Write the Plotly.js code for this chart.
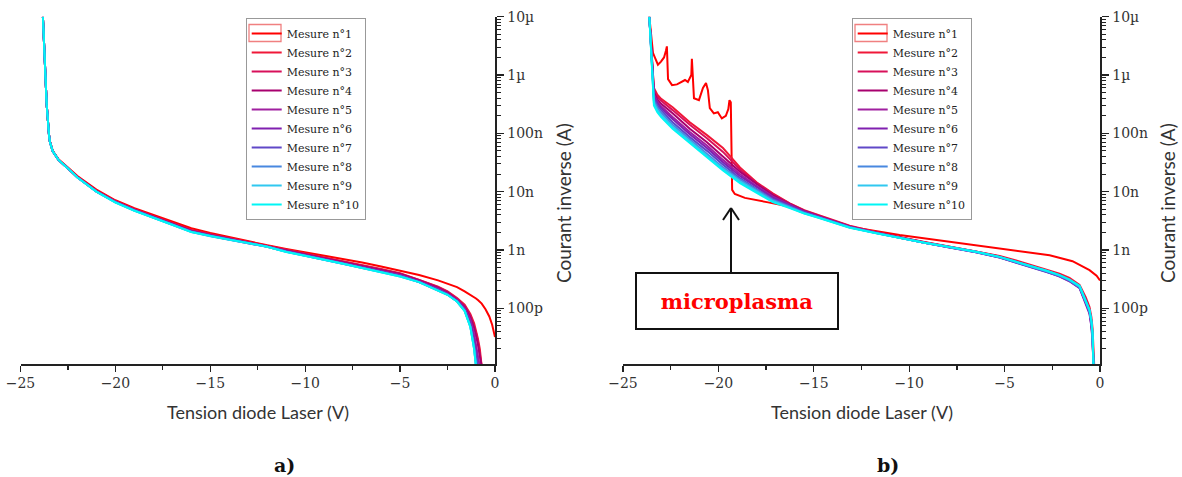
<!DOCTYPE html>
<html>
<head>
<meta charset="utf-8">
<script src="https://cdn.plot.ly/plotly-3.0.1.min.js"></script>
<style>html,body{margin:0;padding:0;background:#fff;}#chart{width:1182px;height:477px;}</style>
</head>
<body>
<div id="chart"></div>
<script>
// ---------- DATA ----------
const seriesNames = ["Mesure n°1","Mesure n°2","Mesure n°3","Mesure n°4","Mesure n°5","Mesure n°6","Mesure n°7","Mesure n°8","Mesure n°9","Mesure n°10"];
const yTickVals = [1e-10, 1e-9, 1e-8, 1e-7, 1e-6, 1e-5];
const yTickText = ["100p", "1n", "10n", "100n", "1µ", "10µ"];

// Panel a) voltage grid (V)
const voltA = [-23.82,-23.62,-23.5,-23.45,-23.3,-23,-22.5,-22,-21,-20,-19,-18,-17,-16,-15,-14,-13,-12,-11,-10,-9,-8,-7,-6,-5,-4,-3,-2.5,-2,-1.6,-1.3,-1.1,-1.0,-0.9,-0.8,-0.7,-0.5,-0.3,-0.15,0];
// Panel a) currents (A)
const a1 = [1.0e-5,3.1e-7,9.6e-8,7.3e-8,5.0e-8,3.6e-8,2.6e-8,1.85e-8,1.08e-8,7.1e-9,5.2e-9,3.95e-9,3.0e-9,2.35e-9,1.95e-9,1.65e-9,1.38e-9,1.2e-9,1.04e-9,9.1e-10,8.0e-10,7.0e-10,6.1e-10,5.2e-10,4.4e-10,3.7e-10,3.0e-10,2.65e-10,2.3e-10,1.95e-10,1.72e-10,1.56e-10,1.47e-10,1.38e-10,1.3e-10,1.2e-10,9.6e-11,7.2e-11,5.2e-11,3.2e-11];
const a2 = [1.0e-5,3.1e-7,9.5e-8,7.2e-8,4.95e-8,3.55e-8,2.55e-8,1.8e-8,1.04e-8,6.9e-9,5.0e-9,3.8e-9,2.85e-9,2.2e-9,1.86e-9,1.6e-9,1.38e-9,1.19e-9,1.0e-9,8.6e-10,7.4e-10,6.4e-10,5.5e-10,4.7e-10,4.0e-10,3.1e-10,2.35e-10,1.95e-10,1.5e-10,1.15e-10,8.0e-11,5.5e-11,4.2e-11,3.0e-11,2.0e-11,1.0e-11,null,null,null,null];
const a3 = [1.0e-5,3.1e-7,9.5e-8,7.2e-8,4.9e-8,3.5e-8,2.5e-8,1.78e-8,1.03e-8,6.8e-9,4.95e-9,3.75e-9,2.82e-9,2.17e-9,1.84e-9,1.58e-9,1.36e-9,1.17e-9,9.9e-10,8.5e-10,7.3e-10,6.3e-10,5.4e-10,4.6e-10,3.9e-10,3.05e-10,2.3e-10,1.9e-10,1.45e-10,1.1e-10,7.5e-11,5.0e-11,3.8e-11,2.7e-11,1.7e-11,1.0e-11,null,null,null,null];
const a4 = [1.0e-5,3.1e-7,9.5e-8,7.1e-8,4.9e-8,3.5e-8,2.5e-8,1.77e-8,1.02e-8,6.75e-9,4.9e-9,3.7e-9,2.8e-9,2.14e-9,1.81e-9,1.56e-9,1.35e-9,1.16e-9,9.8e-10,8.4e-10,7.2e-10,6.2e-10,5.3e-10,4.5e-10,3.85e-10,3.0e-10,2.25e-10,1.85e-10,1.4e-10,1.05e-10,7.0e-11,4.6e-11,3.4e-11,2.4e-11,1.5e-11,1.0e-11,null,null,null,null];
const a5 = [1.0e-5,3.1e-7,9.5e-8,7.1e-8,4.9e-8,3.5e-8,2.5e-8,1.76e-8,1.01e-8,6.7e-9,4.85e-9,3.68e-9,2.77e-9,2.1e-9,1.78e-9,1.54e-9,1.34e-9,1.15e-9,9.6e-10,8.2e-10,7.0e-10,6.0e-10,5.1e-10,4.35e-10,3.7e-10,2.9e-10,2.15e-10,1.78e-10,1.38e-10,1.0e-10,6.3e-11,3.6e-11,2.4e-11,1.4e-11,1.0e-11,null,null,null,null,null];
const a6 = [1.0e-5,3.1e-7,9.5e-8,7.1e-8,4.9e-8,3.5e-8,2.5e-8,1.76e-8,1.01e-8,6.65e-9,4.8e-9,3.65e-9,2.75e-9,2.08e-9,1.76e-9,1.53e-9,1.33e-9,1.14e-9,9.5e-10,8.1e-10,6.9e-10,5.9e-10,5.0e-10,4.3e-10,3.65e-10,2.85e-10,2.1e-10,1.75e-10,1.35e-10,9.6e-11,5.8e-11,3.0e-11,1.9e-11,1.0e-11,null,null,null,null,null,null];
const a7 = [1.0e-5,3.1e-7,9.5e-8,7.1e-8,4.9e-8,3.5e-8,2.5e-8,1.75e-8,1.0e-8,6.6e-9,4.78e-9,3.62e-9,2.73e-9,2.06e-9,1.75e-9,1.52e-9,1.32e-9,1.13e-9,9.4e-10,8.0e-10,6.85e-10,5.85e-10,4.95e-10,4.25e-10,3.6e-10,2.82e-10,2.08e-10,1.72e-10,1.32e-10,9.3e-11,5.3e-11,2.5e-11,1.5e-11,1.0e-11,null,null,null,null,null,null];
const a8 = [1.0e-5,3.1e-7,9.5e-8,7.1e-8,4.9e-8,3.5e-8,2.5e-8,1.75e-8,1.0e-8,6.6e-9,4.75e-9,3.6e-9,2.72e-9,2.05e-9,1.73e-9,1.51e-9,1.32e-9,1.13e-9,9.3e-10,7.9e-10,6.8e-10,5.8e-10,4.9e-10,4.2e-10,3.55e-10,2.8e-10,2.05e-10,1.7e-10,1.3e-10,9.0e-11,4.9e-11,2.1e-11,1.0e-11,null,null,null,null,null,null,null];
const a9 = [1.0e-5,3.1e-7,9.5e-8,7.1e-8,4.9e-8,3.5e-8,2.5e-8,1.75e-8,1.0e-8,6.55e-9,4.72e-9,3.6e-9,2.7e-9,2.03e-9,1.72e-9,1.5e-9,1.32e-9,1.13e-9,9.3e-10,7.85e-10,6.8e-10,5.8e-10,4.9e-10,4.2e-10,3.5e-10,2.8e-10,2.05e-10,1.7e-10,1.3e-10,9.0e-11,4.8e-11,2.0e-11,1.0e-11,null,null,null,null,null,null,null];
const a10 = [1.0e-5,3.1e-7,9.5e-8,7.1e-8,4.9e-8,3.5e-8,2.5e-8,1.75e-8,1.0e-8,6.5e-9,4.7e-9,3.6e-9,2.7e-9,2.02e-9,1.72e-9,1.5e-9,1.32e-9,1.13e-9,9.2e-10,7.8e-10,6.8e-10,5.8e-10,4.9e-10,4.2e-10,3.5e-10,2.8e-10,2.05e-10,1.7e-10,1.3e-10,9.0e-11,4.8e-11,2.0e-11,1.0e-11,null,null,null,null,null,null,null];

// Panel b) voltage grid for measures 2-10 (V)
const voltB = [-23.62,-23.5,-23.38,-23.2,-23.0,-22.4,-21.5,-20.6,-19.76,-18.87,-18.0,-17.15,-16.26,-15.5,-14.8,-13.12,-11.8,-10.5,-9.2,-7.88,-6.5,-5.26,-4.4,-3.53,-2.8,-2.12,-1.6,-1.07,-0.92,-0.75,-0.55,-0.45,-0.39,-0.34,-0.3];
// Panel b) voltage grid for measure 1 (microplasma)
const voltB1 = [-23.62,-23.5,-23.43,-23.32,-23.17,-23.01,-22.85,-22.75,-22.7,-22.64,-22.43,-22.17,-21.75,-21.6,-21.42,-21.39,-21.33,-21.28,-21.02,-20.81,-20.65,-20.55,-20.45,-20.24,-20.03,-19.82,-19.61,-19.48,-19.42,-19.35,-19.3,-19.28,-19.14,-18.61,-17.46,-16.1,-15.73,-13.12,-10.5,-7.88,-5.26,-3.2,-2.64,-1.44,-1.07,-0.55,-0.18,0];
const b1 = [1.0e-5,3.5e-6,2.4e-6,1.96e-6,1.5e-6,1.7e-6,2.0e-6,2.6e-6,3.1e-6,8.5e-7,6.7e-7,6.9e-7,8.2e-7,7.6e-7,1.0e-6,1.9e-6,6.0e-7,4.0e-7,3.7e-7,6.0e-7,7.3e-7,5.5e-7,2.7e-7,2.2e-7,2.3e-7,1.8e-7,2.0e-7,2.6e-7,3.7e-7,3.4e-7,2.8e-8,1.07e-8,9.1e-9,7.8e-9,6.6e-9,5.4e-9,4.6e-9,2.5e-9,1.8e-9,1.38e-9,1.07e-9,8.8e-10,8.1e-10,6.4e-10,5.5e-10,4.5e-10,3.6e-10,3.0e-10];
const b2 = [1.0e-5,2.0e-6,6.0e-7,4.6e-7,3.9e-7,2.8e-7,1.55e-7,9.3e-8,5.6e-8,2.6e-8,1.45e-8,9.3e-9,6.3e-9,4.8e-9,4.0e-9,2.6e-9,2.05e-9,1.65e-9,1.37e-9,1.15e-9,9.6e-10,7.9e-10,6.6e-10,5.4e-10,4.6e-10,3.9e-10,3.3e-10,2.5e-10,2.0e-10,1.55e-10,1.05e-10,7.0e-11,4.5e-11,2.0e-11,1.0e-11];
const b3 = [1.0e-5,2.0e-6,5.5e-7,4.2e-7,3.6e-7,2.5e-7,1.4e-7,8.2e-8,4.8e-8,2.4e-8,1.4e-8,9.0e-9,6.2e-9,4.7e-9,3.9e-9,2.55e-9,2.02e-9,1.63e-9,1.35e-9,1.13e-9,9.4e-10,7.7e-10,6.4e-10,5.2e-10,4.4e-10,3.7e-10,3.1e-10,2.4e-10,1.85e-10,1.45e-10,9.5e-11,6.0e-11,3.6e-11,1.2e-11,null];
const b4 = [1.0e-5,1.9e-6,5.0e-7,3.8e-7,3.2e-7,2.2e-7,1.2e-7,7.0e-8,4.0e-8,2.2e-8,1.35e-8,8.7e-9,6.1e-9,4.65e-9,3.85e-9,2.52e-9,2.0e-9,1.62e-9,1.34e-9,1.12e-9,9.3e-10,7.6e-10,6.3e-10,5.1e-10,4.35e-10,3.65e-10,3.05e-10,2.35e-10,1.8e-10,1.4e-10,9.0e-11,5.5e-11,3.2e-11,1.0e-11,null];
const b5 = [1.0e-5,1.9e-6,4.6e-7,3.5e-7,2.9e-7,1.9e-7,1.05e-7,6.2e-8,3.5e-8,2.0e-8,1.25e-8,8.2e-9,5.9e-9,4.55e-9,3.8e-9,2.5e-9,2.0e-9,1.62e-9,1.33e-9,1.11e-9,9.2e-10,7.5e-10,6.2e-10,5.0e-10,4.25e-10,3.55e-10,2.95e-10,2.25e-10,1.7e-10,1.3e-10,8.5e-11,5.0e-11,2.8e-11,1.0e-11,null];
const b6 = [1.0e-5,1.8e-6,4.3e-7,3.3e-7,2.7e-7,1.75e-7,9.6e-8,5.6e-8,3.2e-8,1.85e-8,1.2e-8,7.9e-9,5.8e-9,4.5e-9,3.75e-9,2.47e-9,1.98e-9,1.6e-9,1.32e-9,1.1e-9,9.1e-10,7.4e-10,6.1e-10,4.95e-10,4.2e-10,3.5e-10,2.9e-10,2.2e-10,1.65e-10,1.25e-10,8.0e-11,4.8e-11,2.6e-11,1.0e-11,null];
const b7 = [1.0e-5,1.8e-6,4.0e-7,3.0e-7,2.5e-7,1.55e-7,8.6e-8,5.0e-8,2.9e-8,1.7e-8,1.1e-8,7.5e-9,5.6e-9,4.4e-9,3.7e-9,2.45e-9,1.97e-9,1.6e-9,1.32e-9,1.1e-9,9.1e-10,7.4e-10,6.1e-10,4.95e-10,4.25e-10,3.55e-10,2.95e-10,2.25e-10,1.7e-10,1.3e-10,8.5e-11,5.3e-11,3.0e-11,1.0e-11,null];
const b8 = [1.0e-5,1.7e-6,3.6e-7,2.75e-7,2.25e-7,1.4e-7,7.8e-8,4.5e-8,2.6e-8,1.6e-8,1.05e-8,7.2e-9,5.5e-9,4.3e-9,3.65e-9,2.44e-9,1.97e-9,1.61e-9,1.33e-9,1.11e-9,9.2e-10,7.5e-10,6.2e-10,5.0e-10,4.3e-10,3.6e-10,3.0e-10,2.3e-10,1.75e-10,1.35e-10,9.0e-11,5.8e-11,3.5e-11,1.0e-11,null];
const b9 = [1.0e-5,1.6e-6,3.3e-7,2.5e-7,2.05e-7,1.3e-7,7.3e-8,4.2e-8,2.45e-8,1.5e-8,1.0e-8,6.9e-9,5.3e-9,4.25e-9,3.62e-9,2.42e-9,1.96e-9,1.6e-9,1.33e-9,1.12e-9,9.3e-10,7.6e-10,6.3e-10,5.1e-10,4.4e-10,3.7e-10,3.1e-10,2.4e-10,1.8e-10,1.4e-10,9.3e-11,6.0e-11,3.8e-11,1.0e-11,null];
const b10 = [1.0e-5,1.5e-6,3.0e-7,2.3e-7,1.9e-7,1.2e-7,6.8e-8,3.9e-8,2.3e-8,1.4e-8,9.5e-9,6.6e-9,5.2e-9,4.2e-9,3.6e-9,2.4e-9,1.95e-9,1.6e-9,1.33e-9,1.12e-9,9.3e-10,7.6e-10,6.3e-10,5.1e-10,4.4e-10,3.7e-10,3.1e-10,2.4e-10,1.8e-10,1.4e-10,9.3e-11,6.0e-11,3.8e-11,1.0e-11,null];

// ---------- STYLE ----------
const colors = ['#FF0000','#F01838','#D8105A','#A8006E','#A020A0','#8020B0','#6048C8','#4888E0','#30C8F0','#00F5F5'];
const W = 1182, H = 477;
const px = v => v / W;
const py = v => 1 - v / H;

const panelA = [a1,a2,a3,a4,a5,a6,a7,a8,a9,a10];
const panelB = [b1,b2,b3,b4,b5,b6,b7,b8,b9,b10];

const traces = [];
panelA.forEach((ys, i) => {
  traces.push({type:'scatter', mode:'lines', x: voltA, y: ys, name: seriesNames[i],
    xaxis:'x', yaxis:'y', legend:'legend', line:{color:colors[i], width:2}, hoverinfo:'skip'});
});
panelB.forEach((ys, i) => {
  traces.push({type:'scatter', mode:'lines', x: i === 0 ? voltB1 : voltB, y: ys, name: seriesNames[i],
    xaxis:'x2', yaxis:'y2', legend:'legend2', line:{color:colors[i], width:2}, hoverinfo:'skip'});
});

const minorVals = [];
for (let e = -12; e <= -6; e++) for (let m = 2; m <= 9; m++) minorVals.push(m * Math.pow(10, e));

const tickFont = {family:'DejaVu Serif', size:14, color:'#333'};
function xAx(dom, anchor) {
  return {domain: dom, anchor: anchor, range:[-25, 0], tickmode:'linear', tick0:-25, dtick:5,
    ticks:'outside', ticklen:6, tickwidth:1.3, tickcolor:'#222', showline:true, linecolor:'#222', linewidth:1.5,
    showgrid:false, zeroline:false, tickfont: tickFont,
    minor:{tickmode:'linear', tick0:-25, dtick:2.5, ticks:'outside', ticklen:4, tickwidth:1.2, tickcolor:'#222', showgrid:false}};
}
function yAx(anchor) {
  return {domain:[py(364), py(16.7)], anchor: anchor, side:'right', type:'log', range:[-10.957, -5],
    tickmode:'array', tickvals: yTickVals, ticktext: yTickText,
    ticks:'outside', ticklen:7, tickwidth:1.3, tickcolor:'#222', showline:true, linecolor:'#222', linewidth:1.5,
    showgrid:false, zeroline:false, tickfont: tickFont, ticklabelstandoff: 1,
    minor:{tickmode:'array', tickvals: minorVals, ticks:'outside', ticklen:4, tickwidth:1, tickcolor:'#222', showgrid:false}};
}

const legendBase = {font:{family:'DejaVu Serif', size:11, color:'#222'}, bgcolor:'rgba(255,255,255,0)',
  bordercolor:'#999', borderwidth:1, xanchor:'left', yanchor:'top', itemwidth:30, tracegroupgap:0};

const titleFontX = {family:'Lato', size:18, color:'#333'};
const titleFontY = {family:'Lato', size:19, color:'#333'};
const ann = (x, y, text, font, extra) => Object.assign({xref:'paper', yref:'paper', x: px(x), y: py(y), text: text,
  showarrow:false, xanchor:'center', yanchor:'middle', font: font}, extra || {});

const layout = {
  width: W, height: H, margin:{l:0, r:0, t:0, b:0}, paper_bgcolor:'#fff', plot_bgcolor:'rgba(0,0,0,0)',
  showlegend: true,
  xaxis: xAx([px(20.5), px(495)], 'y'),
  yaxis: yAx('x'),
  xaxis2: xAx([px(623), px(1100)], 'y2'),
  yaxis2: yAx('x2'),
  legend: Object.assign({}, legendBase, {x: px(245.7), y: py(18)}),
  legend2: Object.assign({}, legendBase, {x: px(851.7), y: py(18)}),
  annotations: [
    ann(258, 412, 'Tension diode Laser (V)', titleFontX),
    ann(861.5, 412, 'Tension diode Laser (V)', titleFontX),
    ann(563, 203, 'Courant inverse (A)', titleFontY, {textangle:-90}),
    ann(1167, 203, 'Courant inverse (A)', titleFontY, {textangle:-90}),
    ann(284, 465, '<b>a)</b>', {family:'DejaVu Serif', size:19, color:'#111'}),
    ann(888, 465, '<b>b)</b>', {family:'DejaVu Serif', size:19, color:'#111'}),
    ann(736.7, 301, '<b>microplasma</b>', {family:'DejaVu Serif', size:21, color:'#FF0000'},
      {bgcolor:'#fff', bordercolor:'#111', borderwidth:2, width:196, height:50, borderpad:2})
  ],
  shapes: [
    {type:'line', xref:'paper', yref:'paper', x0:px(731), x1:px(731), y0:py(272), y1:py(209), line:{color:'#111', width:2}},
    {type:'line', xref:'paper', yref:'paper', x0:px(723), x1:px(731), y0:py(220), y1:py(208), line:{color:'#111', width:2}},
    {type:'line', xref:'paper', yref:'paper', x0:px(739), x1:px(731), y0:py(220), y1:py(208), line:{color:'#111', width:2}},
    {type:'rect', xref:'paper', yref:'paper', x0:px(249), x1:px(281), y0:py(41.5), y1:py(24.5), line:{color:'#F08080', width:1.3}},
    {type:'rect', xref:'paper', yref:'paper', x0:px(855), x1:px(887), y0:py(41.5), y1:py(24.5), line:{color:'#F08080', width:1.3}}
  ]
};

Plotly.newPlot('chart', traces, layout, {staticPlot:true, displayModeBar:false});
</script>
</body>
</html>
